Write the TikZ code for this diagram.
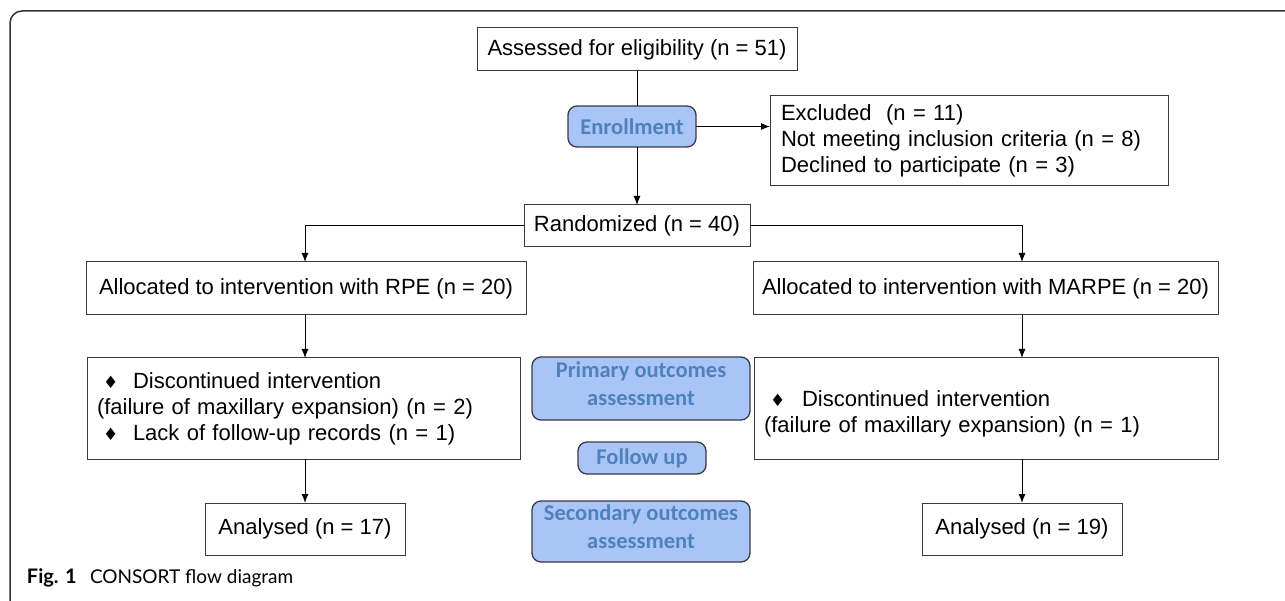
\documentclass[tikz,border=0pt]{standalone}
\usepackage{fontspec}
\setmainfont{Liberation Sans}
\newfontfamily\blfont{Carlito}
\newfontfamily\capfont{Lato}
\newfontfamily\symfont{DejaVu Sans}
\usetikzlibrary{arrows.meta}
\definecolor{bluefill}{HTML}{A9C5F8}
\definecolor{bluetext}{HTML}{4F81BD}
\definecolor{blueline}{HTML}{3A3A44}
\definecolor{boxline}{HTML}{3A3A3A}
\newcommand{\dia}{{\symfont\fontsize{17}{17}\selectfont\char"2666}}
\begin{document}
\begin{tikzpicture}[x=1pt,y=-1pt,
  every node/.style={inner sep=0pt, outer sep=0pt},
  flowbox/.style={draw=boxline, line width=1pt, font=\fontsize{22}{26}\selectfont, text=black},
  phase/.style={draw=blueline, line width=1.3pt, fill=bluefill, rounded corners=9pt, text=bluetext, font=\blfont\bfseries\fontsize{22.5}{28}\selectfont, align=center},
  arr/.style={line width=1pt, -{Latex[length=9pt,width=7pt]}},
  link/.style={line width=1pt}]
\useasboundingbox (0,0) rectangle (1285,601);
\draw[line width=1.5pt, draw=black!80, rounded corners=12pt] (1285,11) -- (10,11) -- (10,601);

\node[flowbox, minimum width=320pt, minimum height=43pt] (assess) at (637,49.5) {Assessed for eligibility (n = 51)};
\node[phase, minimum width=128pt, minimum height=41pt] (enroll) at (632,126.5) {Enrollment};
\node[flowbox, minimum width=398pt, minimum height=90pt, text width=376pt, align=left] (excl) at (969,141) {Excluded\ \ (n = 11)\\Not meeting inclusion criteria (n = 8)\\Declined to participate (n = 3)};
\node[flowbox, minimum width=226pt, minimum height=42pt] (rand) at (637,226) {Randomized (n = 40)};
\node[flowbox, minimum width=440pt, minimum height=53pt] (rpe) at (306,288.5) {Allocated to intervention with RPE (n = 20)};
\node[flowbox, minimum width=465pt, minimum height=53pt] (marpe) at (985.5,288.5) {Allocated to intervention with MARPE (n = 20)};
\node[flowbox, minimum width=433pt, minimum height=101pt, text width=413pt, align=left] (discL) at (303.5,408.5) {\hspace*{6pt}\makebox[30pt][l]{\dia}Discontinued intervention\\(failure of maxillary expansion) (n = 2)\\\hspace*{6pt}\makebox[30pt][l]{\dia}Lack of follow-up records (n = 1)};
\node[flowbox, minimum width=464pt, minimum height=101pt, text width=444pt, align=left] (discR) at (986,408.5) {\rule{0pt}{26pt}\hspace*{6pt}\makebox[32pt][l]{\dia}Discontinued intervention\\(failure of maxillary expansion) (n = 1)};
\node[flowbox, minimum width=200pt, minimum height=52pt] (an17) at (305,529) {Analysed (n = 17)};
\node[flowbox, minimum width=200pt, minimum height=52pt] (an19) at (1022,529) {Analysed (n = 19)};

\node[phase, minimum width=218pt, minimum height=63pt] (primary) at (641,388.5) {Primary outcomes\\assessment\rule[-10pt]{0pt}{10pt}};
\node[phase, minimum width=128pt, minimum height=32pt] (follow) at (642,458) {Follow up};
\node[phase, minimum width=218pt, minimum height=61pt] (secondary) at (641,531.5) {Secondary outcomes\\assessment\rule[-10pt]{0pt}{10pt}};

\node[anchor=base west, font=\capfont\bfseries\fontsize{20}{20}\selectfont] (figlab) at (27,583) {Fig. 1};
\node[anchor=base west, font=\capfont\fontsize{19}{19}\selectfont] (figcap) at (90,583) {CONSORT flow diagram};

\coordinate (laxis) at (305,0);
\coordinate (raxis) at (1022,0);

\draw[link] (assess.south) -- (enroll.north -| assess.south);
\draw[arr] (enroll.south -| assess.south) -- (rand.north);
\draw[arr] (enroll.east) -- (excl.west |- enroll.east);
\draw[arr] (rand.west) -| (laxis |- rpe.north);
\draw[arr] (rand.east) -| (raxis |- marpe.north);
\draw[arr] (laxis |- rpe.south) -- (laxis |- discL.north);
\draw[arr] (laxis |- discL.south) -- (an17.north);
\draw[arr] (raxis |- marpe.south) -- (raxis |- discR.north);
\draw[arr] (raxis |- discR.south) -- (an19.north);
\end{tikzpicture}
\end{document}
